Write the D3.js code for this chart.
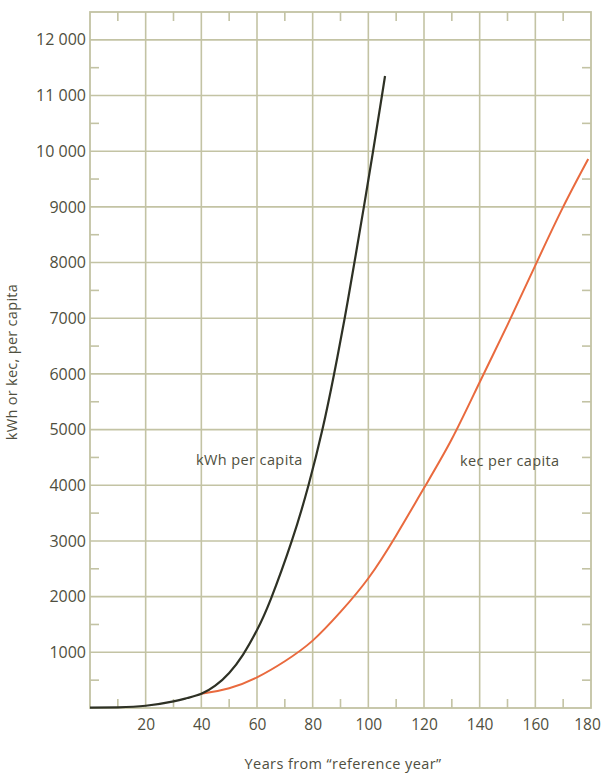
<!DOCTYPE html>
<html>
<head>
<meta charset="utf-8">
<script src="https://cdn.jsdelivr.net/npm/d3@7"></script>
<style>
  html, body { margin: 0; padding: 0; background: #ffffff; }
  svg { display: block; }
  text { font-family: "Open Sans", "Noto Sans", sans-serif; fill: #4f4f40; }
</style>
</head>
<body>
<svg id="chart" width="603" height="773"></svg>
<script>
// Per-capita electricity (kWh) against years after the reference year
const kwhYears  = [0, 10, 20, 30, 35, 40, 45, 50, 55, 60, 65, 72.5, 78.5, 83.5, 87.7, 91.5, 95.0, 98.4, 101.7, 104.9, 106];
const kwhValues = [5, 12, 40, 120, 180, 255, 400, 630, 960, 1400, 1960, 3000, 4000, 5000, 6000, 7000, 8000, 9000, 10000, 11000, 11350];

// Per-capita energy in kilograms of coal equivalent (kec)
const kecYears  = [40, 50, 60, 70, 80, 90, 100, 110, 120, 130, 140, 150, 160, 170, 179];
const kecValues = [255, 355, 551, 840, 1210, 1725, 2330, 3100, 3950, 4830, 5850, 6880, 7950, 9000, 9860];

const xTickValues = [20, 40, 60, 80, 100, 120, 140, 160, 180];
const yTickValues = [1000, 2000, 3000, 4000, 5000, 6000, 7000, 8000, 9000, 10000, 11000, 12000];
const yTickLabels = ["1000", "2000", "3000", "4000", "5000", "6000", "7000", "8000", "9000", "10 000", "11 000", "12 000"];
const xMinorTicks = [10, 30, 50, 70, 90, 110, 130, 150, 170];
const yMinorTicks = [500, 1500, 2500, 3500, 4500, 5500, 6500, 7500, 8500, 9500, 10500, 11500];

const seriesNames = ["kWh per capita", "kec per capita"];
const axisTitles = ["Years from \u201Creference year\u201D", "kWh or kec, per capita"];

const svg = d3.select("#chart");
const plotLeft = 90, plotRight = 591, plotTop = 12, plotBottom = 708;

const x = d3.scaleLinear().domain([0, 180]).range([plotLeft, plotRight]);
const y = d3.scaleLinear().domain([0, 12500]).range([plotBottom, plotTop]);

const gridColor = "#c3c3a4";
const textColor = "#4f4f40";
const fontStack = "'Open Sans', 'Noto Sans', sans-serif";

// Grid
const grid = svg.append("g").attr("stroke", gridColor).attr("stroke-width", 1.6);
grid.selectAll("line.v").data(xTickValues.slice(0, -1)).join("line")
  .attr("x1", d => x(d)).attr("x2", d => x(d))
  .attr("y1", plotTop).attr("y2", plotBottom);
grid.selectAll("line.h").data(yTickValues).join("line")
  .attr("x1", plotLeft).attr("x2", plotRight)
  .attr("y1", d => y(d)).attr("y2", d => y(d));

// Frame
svg.append("rect")
  .attr("x", plotLeft).attr("y", plotTop)
  .attr("width", plotRight - plotLeft).attr("height", plotBottom - plotTop)
  .attr("fill", "none").attr("stroke", gridColor).attr("stroke-width", 1.8);

// Minor ticks on all four sides
const tickLen = 9;
const minor = svg.append("g").attr("stroke", gridColor).attr("stroke-width", 1.6);
minor.selectAll("line.t").data(xMinorTicks).join("line")
  .attr("x1", d => x(d)).attr("x2", d => x(d)).attr("y1", plotTop).attr("y2", plotTop + tickLen);
minor.selectAll("line.b").data(xMinorTicks).join("line")
  .attr("x1", d => x(d)).attr("x2", d => x(d)).attr("y1", plotBottom).attr("y2", plotBottom - tickLen);
minor.selectAll("line.l").data(yMinorTicks).join("line")
  .attr("x1", plotLeft).attr("x2", plotLeft + tickLen).attr("y1", d => y(d)).attr("y2", d => y(d));
minor.selectAll("line.r").data(yMinorTicks).join("line")
  .attr("x1", plotRight).attr("x2", plotRight - tickLen).attr("y1", d => y(d)).attr("y2", d => y(d));

// Axis tick labels
const xAxis = d3.axisBottom(x).tickValues(xTickValues).tickSize(0).tickPadding(11);
svg.append("g").attr("transform", `translate(0,${plotBottom})`).call(xAxis)
  .call(g => g.select(".domain").remove())
  .call(g => g.selectAll("text").attr("font-size", 15.5).attr("fill", textColor)
    .style("font-family", fontStack))
  // keep the last label inside the page edge
  .call(g => g.selectAll("text").filter(d => d === 180).attr("dx", -4));

const yAxis = d3.axisLeft(y).tickValues(yTickValues).tickSize(0).tickPadding(4)
  .tickFormat((d, i) => yTickLabels[i]);
svg.append("g").attr("transform", `translate(${plotLeft},0)`).call(yAxis)
  .call(g => g.select(".domain").remove())
  .call(g => g.selectAll("text").attr("font-size", 16).attr("fill", textColor)
    .style("font-family", fontStack));

// Curves
const smoothLine = d3.line().x(d => x(d[0])).y(d => y(Math.max(0, d[1]))).curve(d3.curveNatural);
const kecData = d3.zip(kecYears, kecValues);
const kwhData = d3.zip(kwhYears, kwhValues);

svg.append("path").datum(kecData).attr("d", smoothLine)
  .attr("fill", "none").attr("stroke", "#e96a3e").attr("stroke-width", 2);
svg.append("path").datum(kwhData).attr("d", smoothLine)
  .attr("fill", "none").attr("stroke", "#2e3125").attr("stroke-width", 2.2);

// Series labels
svg.append("text").attr("x", 196).attr("y", 465).attr("font-size", 14.5)
  .attr("letter-spacing", 0.4).text(seriesNames[0]);
svg.append("text").attr("x", 460).attr("y", 466).attr("font-size", 14.5)
  .attr("letter-spacing", 0.4).text(seriesNames[1]);

// Axis titles
svg.append("text").attr("x", 343).attr("y", 769).attr("text-anchor", "middle")
  .attr("font-size", 14.5).attr("letter-spacing", 0.4).text(axisTitles[0]);
svg.append("text").attr("transform", "translate(17,362) rotate(-90)")
  .attr("text-anchor", "middle").attr("font-size", 14.5).attr("letter-spacing", 0.3).text(axisTitles[1]);
</script>
</body>
</html>
